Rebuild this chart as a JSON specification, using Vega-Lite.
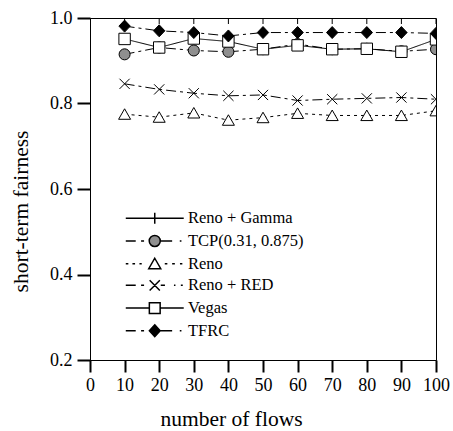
{
  "$schema": "https://vega.github.io/schema/vega-lite/v6.json",
  "width": 346,
  "height": 342,
  "autosize": {"type": "none"},
  "padding": {"left": 90, "top": 18, "right": 17, "bottom": 71},
  "background": "white",
  "config": {
    "font": "Liberation Serif",
    "view": {"stroke": "black", "strokeWidth": 1},
    "axis": {
      "grid": false,
      "domainColor": "black",
      "labelColor": "black",
      "titleColor": "black",
      "labelFont": "Liberation Serif",
      "titleFont": "Liberation Serif",
      "labelFontSize": 18,
      "titleFontSize": 21.5,
      "titleFontWeight": "normal",
      "labelOverlap": false,
      "labelFlush": false
    }
  },
  "data": {
    "values": [
      {"series": "Reno + Gamma", "flows": 10, "fairness": 1.0},
      {"series": "Reno + Gamma", "flows": 20, "fairness": 1.0},
      {"series": "Reno + Gamma", "flows": 30, "fairness": 1.0},
      {"series": "Reno + Gamma", "flows": 40, "fairness": 1.0},
      {"series": "Reno + Gamma", "flows": 50, "fairness": 1.0},
      {"series": "Reno + Gamma", "flows": 60, "fairness": 1.0},
      {"series": "Reno + Gamma", "flows": 70, "fairness": 1.0},
      {"series": "Reno + Gamma", "flows": 80, "fairness": 1.0},
      {"series": "Reno + Gamma", "flows": 90, "fairness": 1.0},
      {"series": "Reno + Gamma", "flows": 100, "fairness": 1.0},
      {"series": "TCP(0.31, 0.875)", "flows": 10, "fairness": 0.915},
      {"series": "TCP(0.31, 0.875)", "flows": 20, "fairness": 0.931},
      {"series": "TCP(0.31, 0.875)", "flows": 30, "fairness": 0.924},
      {"series": "TCP(0.31, 0.875)", "flows": 40, "fairness": 0.921},
      {"series": "TCP(0.31, 0.875)", "flows": 50, "fairness": 0.927},
      {"series": "TCP(0.31, 0.875)", "flows": 60, "fairness": 0.939},
      {"series": "TCP(0.31, 0.875)", "flows": 70, "fairness": 0.927},
      {"series": "TCP(0.31, 0.875)", "flows": 80, "fairness": 0.928},
      {"series": "TCP(0.31, 0.875)", "flows": 90, "fairness": 0.922},
      {"series": "TCP(0.31, 0.875)", "flows": 100, "fairness": 0.927},
      {"series": "Reno", "flows": 10, "fairness": 0.775},
      {"series": "Reno", "flows": 20, "fairness": 0.768},
      {"series": "Reno", "flows": 30, "fairness": 0.778},
      {"series": "Reno", "flows": 40, "fairness": 0.761},
      {"series": "Reno", "flows": 50, "fairness": 0.767},
      {"series": "Reno", "flows": 60, "fairness": 0.777},
      {"series": "Reno", "flows": 70, "fairness": 0.772},
      {"series": "Reno", "flows": 80, "fairness": 0.772},
      {"series": "Reno", "flows": 90, "fairness": 0.772},
      {"series": "Reno", "flows": 100, "fairness": 0.783},
      {"series": "Reno + RED", "flows": 10, "fairness": 0.846},
      {"series": "Reno + RED", "flows": 20, "fairness": 0.833},
      {"series": "Reno + RED", "flows": 30, "fairness": 0.824},
      {"series": "Reno + RED", "flows": 40, "fairness": 0.818},
      {"series": "Reno + RED", "flows": 50, "fairness": 0.82},
      {"series": "Reno + RED", "flows": 60, "fairness": 0.807},
      {"series": "Reno + RED", "flows": 70, "fairness": 0.81},
      {"series": "Reno + RED", "flows": 80, "fairness": 0.812},
      {"series": "Reno + RED", "flows": 90, "fairness": 0.814},
      {"series": "Reno + RED", "flows": 100, "fairness": 0.81},
      {"series": "Vegas", "flows": 10, "fairness": 0.951},
      {"series": "Vegas", "flows": 20, "fairness": 0.931},
      {"series": "Vegas", "flows": 30, "fairness": 0.952},
      {"series": "Vegas", "flows": 40, "fairness": 0.945},
      {"series": "Vegas", "flows": 50, "fairness": 0.927},
      {"series": "Vegas", "flows": 60, "fairness": 0.936},
      {"series": "Vegas", "flows": 70, "fairness": 0.927},
      {"series": "Vegas", "flows": 80, "fairness": 0.928},
      {"series": "Vegas", "flows": 90, "fairness": 0.921},
      {"series": "Vegas", "flows": 100, "fairness": 0.95},
      {"series": "TFRC", "flows": 10, "fairness": 0.981},
      {"series": "TFRC", "flows": 20, "fairness": 0.97},
      {"series": "TFRC", "flows": 30, "fairness": 0.966},
      {"series": "TFRC", "flows": 40, "fairness": 0.958},
      {"series": "TFRC", "flows": 50, "fairness": 0.966},
      {"series": "TFRC", "flows": 60, "fairness": 0.966},
      {"series": "TFRC", "flows": 70, "fairness": 0.966},
      {"series": "TFRC", "flows": 80, "fairness": 0.966},
      {"series": "TFRC", "flows": 90, "fairness": 0.966},
      {"series": "TFRC", "flows": 100, "fairness": 0.964}
    ]
  },
  "encoding": {
    "x": {
      "field": "flows",
      "type": "quantitative",
      "scale": {"domain": [0, 100], "nice": false, "zero": false},
      "axis": {
        "values": [0, 10, 20, 30, 40, 50, 60, 70, 80, 90, 100],
        "tickColor": "#000000",
        "tickSize": 12,
        "tickWidth": 2,
        "zindex": 1,
        "labelPadding": 4,
        "title": "number of flows",
        "titlePadding": 14,
        "titleX": 141,
        "titleAlign": "center"
      }
    },
    "y": {
      "field": "fairness",
      "type": "quantitative",
      "scale": {"domain": [0.2, 1.0], "nice": false, "zero": false},
      "axis": {
        "values": [0.2, 0.4, 0.6, 0.8, 1.0],
        "format": ".1f",
        "tickColor": "#000000",
        "tickSize": 13,
        "tickWidth": 2,
        "zindex": 1,
        "labelPadding": 5,
        "title": "short-term fairness",
        "titlePadding": 17,
        "titleY": 193,
        "titleAlign": "center"
      }
    }
  },
  "layer": [
    {
      "mark": {"type": "line", "color": "black", "strokeWidth": 1, "clip": true},
      "encoding": {
        "strokeDash": {
          "field": "series",
          "type": "nominal",
          "scale": {
            "domain": ["Reno + Gamma", "TCP(0.31, 0.875)", "Reno", "Reno + RED", "Vegas", "TFRC"],
            "range": [[1, 0], [10, 4, 3, 4], [3, 4], [10, 4, 3, 4], [1, 0], [10, 4, 3, 4]]
          },
          "legend": null
        }
      }
    },
    {
      "mark": {"type": "point", "filled": true, "stroke": "black", "strokeWidth": 1, "size": 144, "opacity": 1, "clip": true},
      "encoding": {
        "shape": {
          "field": "series",
          "type": "nominal",
          "scale": {
            "domain": ["Reno + Gamma", "TCP(0.31, 0.875)", "Reno", "Reno + RED", "Vegas", "TFRC"],
            "range": [
              "M-1,0H1M0,-1V1",
              "M-0.92,0A0.92,0.92 0 1,0 0.92,0A0.92,0.92 0 1,0 -0.92,0Z",
              "M0,-0.9L1,0.85L-1,0.85Z",
              "M-0.85,-0.85L0.85,0.85M-0.85,0.85L0.85,-0.85",
              "M-0.95,-0.95H0.95V0.95H-0.95Z",
              "M0,-1L0.95,0L0,1L-0.95,0Z"
            ]
          },
          "legend": null
        },
        "fill": {
          "field": "series",
          "type": "nominal",
          "scale": {
            "domain": ["Reno + Gamma", "TCP(0.31, 0.875)", "Reno", "Reno + RED", "Vegas", "TFRC"],
            "range": ["white", "#8f8f8f", "white", "white", "white", "black"]
          },
          "legend": null
        }
      }
    },
    {
      "transform": [{"filter": "datum.flows < 0"}],
      "mark": {"type": "point", "filled": true, "stroke": "black", "strokeWidth": 1.01, "size": 144, "opacity": 1},
      "encoding": {
        "shape": {
          "field": "series",
          "type": "nominal",
          "scale": {
            "domain": ["Reno + Gamma", "TCP(0.31, 0.875)", "Reno", "Reno + RED", "Vegas", "TFRC"],
            "range": [
              "M-4.83,0H4.83M0,-0.9V0.9",
              "M-4.83,0H-3.17M-2.28,0H-1.78M0.92,0H2.9M4.17,0H4.45M-0.92,0A0.92,0.92 0 1,0 0.92,0A0.92,0.92 0 1,0 -0.92,0Z",
              "M-4.83,0H-4.4M-3.72,0H-3.28M-2.55,0H-2.17M1.67,0H2.1M2.9,0H3.35M4.2,0H4.6M0,-0.9L1,0.85L-1,0.85Z",
              "M-4.83,0H-3.17M-2.28,0H-1.78M1,0H1.7M3.2,0H3.45M4.35,0H4.67M-0.85,-0.85L0.85,0.85M-0.85,0.85L0.85,-0.85",
              "M-4.83,0H-0.9M0.9,0H4.83M-0.9,-0.9H0.9V0.9H-0.9Z",
              "M-4.83,0H-3.17M-2.28,0H-1.78M0.9,0H2.9M4.17,0H4.45M0,-1L0.9,0L0,1L-0.9,0Z"
            ]
          },
          "legend": {
            "title": null,
            "orient": "none",
            "legendX": 30,
            "legendY": 192,
            "padding": 0,
            "symbolOffset": 26.5,
            "labelOffset": 25,
            "symbolSize": 144,
            "labelFont": "Liberation Serif",
            "labelFontSize": 16.5,
            "labelColor": "black",
            "labelLimit": 300,
            "rowPadding": 4.7
          }
        },
        "fill": {
          "field": "series",
          "type": "nominal",
          "scale": {
            "domain": ["Reno + Gamma", "TCP(0.31, 0.875)", "Reno", "Reno + RED", "Vegas", "TFRC"],
            "range": ["white", "#8f8f8f", "white", "white", "white", "black"]
          },
          "legend": {
            "title": null,
            "orient": "none",
            "legendX": 30,
            "legendY": 192,
            "padding": 0,
            "symbolOffset": 26.5,
            "labelOffset": 25,
            "symbolSize": 144,
            "labelFont": "Liberation Serif",
            "labelFontSize": 16.5,
            "labelColor": "black",
            "labelLimit": 300,
            "rowPadding": 4.7
          }
        }
      }
    }
  ],
  "resolve": {
    "scale": {"shape": "independent", "fill": "independent", "strokeDash": "independent"},
    "legend": {"shape": "independent", "fill": "independent", "strokeDash": "independent"}
  }
}
